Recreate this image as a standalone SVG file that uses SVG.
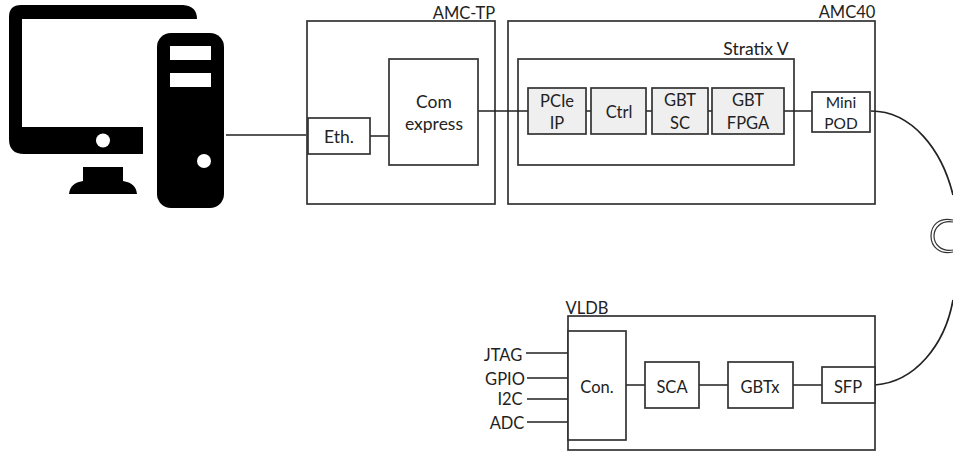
<svg xmlns="http://www.w3.org/2000/svg" width="953" height="452" viewBox="0 0 953 452">
<style>
.b{fill:#fff;stroke:#333;stroke-width:1.7}
.g{fill:#efefef;stroke:#333;stroke-width:1.7}
.c{fill:none;stroke:#222;stroke-width:1.7}
.t{fill:none;stroke:#333;stroke-width:1.2}
.k{fill:#000}
.w{fill:#fff}
text{font-family:Lato,"Liberation Sans",sans-serif;font-size:16.500px;fill:#222;text-anchor:middle}
.l{font-size:17.500px}
.s{font-size:15.500px}
</style>
<rect width="953" height="452" fill="#fff"/>
<g id="computer">
<path class="k" d="M21 5H183Q197 6 197 19H22V127H143V154H24Q9 154 9 139V17Q9 5 21 5Z"/>
<circle class="w" cx="103" cy="140.500" r="7"/>
<path class="k" d="M83 167H123V181Q136 183 137 194H69Q70 183 83 181Z"/>
<rect class="k" x="157" y="33" width="67" height="175" rx="14"/>
<rect class="w" x="170" y="46" width="41" height="14"/>
<rect class="w" x="170" y="73" width="41" height="14"/>
<circle class="w" cx="204" cy="161" r="7"/>
</g>
<g id="amc-tp">
<rect class="b" x="307" y="21" width="188" height="183"/>
<text x="464" y="18.500">AMC-TP</text>
</g>
<g id="amc40">
<rect class="b" x="508" y="21" width="367" height="183"/>
<text x="847" y="18">AMC40</text>
</g>
<g id="stratix">
<rect class="b" x="518" y="59" width="276" height="106"/>
<text class="l" x="756" y="55">Stratix V</text>
</g>
<g id="vldb">
<rect class="b" x="568" y="316" width="307" height="134"/>
<text x="587" y="314">VLDB</text>
</g>
<g id="connectors">
<path class="c" d="M226 135H306M370 136H389M478 111H528M586 111H591M646 111H652M708 111H712M784 111H812"/>
<path class="c" d="M526 353H568M527 378H568M527 399H568M527 422H568M626 385H645M699 385H728M793 385H822"/>
<path class="c" d="M871 111C912 111 942 150 953 195M875 385C915 382 945 345 953 300"/>
<path class="t" d="M953 220C938 217 931 226 931 236C931 246 939 255 953 252"/>
<path class="t" d="M953 222C941 220 934 228 934 236C934 244 941 252 953 250"/>
</g>
<g id="eth"><rect class="b" x="308" y="118" width="62" height="36"/><text class="l" x="339" y="143">Eth.</text></g>
<g id="com-express"><rect class="b" x="389" y="59" width="89" height="106"/><text class="l" x="434" y="108">Com</text><text class="l" x="434" y="130">express</text></g>
<g id="pcie-ip"><rect class="g" x="528" y="88" width="58" height="46"/><text x="557" y="107">PCIe</text><text x="557" y="129">IP</text></g>
<g id="ctrl"><rect class="g" x="591" y="88" width="55" height="46"/><text x="619" y="118">Ctrl</text></g>
<g id="gbt-sc"><rect class="g" x="652" y="88" width="56" height="46"/><text x="680" y="106">GBT</text><text x="680" y="129">SC</text></g>
<g id="gbt-fpga"><rect class="g" x="712" y="88" width="72" height="46"/><text x="748" y="106">GBT</text><text x="748" y="129">FPGA</text></g>
<g id="mini-pod"><rect class="b" x="812" y="92" width="58" height="40"/><text class="s" x="841" y="108">Mini</text><text class="s" x="841" y="129">POD</text></g>
<g id="con"><rect class="b" x="568" y="331" width="58" height="109"/><text x="597" y="393">Con.</text></g>
<g id="sca"><rect class="b" x="645" y="362" width="54" height="46"/><text x="672" y="393">SCA</text></g>
<g id="gbtx"><rect class="b" x="728" y="362" width="65" height="46"/><text x="760" y="393">GBTx</text></g>
<g id="sfp"><rect class="b" x="822" y="367" width="53" height="36"/><text x="848" y="393">SFP</text></g>
<g id="signals">
<text x="503" y="361">JTAG</text>
<text x="505" y="385">GPIO</text>
<text x="510" y="405">I2C</text>
<text x="507" y="429">ADC</text>
</g>
</svg>
